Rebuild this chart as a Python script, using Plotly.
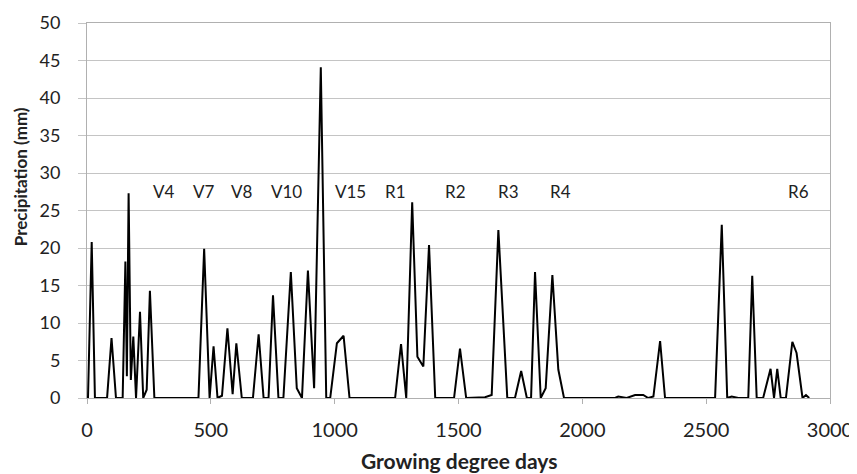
import plotly.graph_objects as go

# Growing degree days (x) and precipitation in mm (y)
gdd = [4, 19, 32, 81, 99, 117, 144, 155, 161, 168, 177, 187, 198, 214, 227, 241, 254, 272,
       450, 473, 495, 511, 527, 545, 567, 588, 603, 625, 670, 693, 713, 733, 751, 773,
       793, 823, 847, 868, 892, 917, 944, 966, 982, 1009, 1036, 1060,
       1244, 1268, 1289, 1313, 1334, 1358, 1381, 1406, 1482, 1506, 1531,
       1607, 1634, 1661, 1697, 1728, 1753, 1776, 1793, 1809, 1832, 1852, 1879, 1903, 1926,
       2132, 2145, 2179, 2213, 2246, 2266, 2287, 2314, 2334,
       2536, 2563, 2585, 2603, 2630, 2670, 2686, 2704, 2730, 2760, 2774, 2787, 2801,
       2822, 2848, 2865, 2889, 2903, 2916]
precip = [0, 20.8, 0, 0, 8.0, 0, 0, 18.2, 2.9, 27.3, 2.4, 8.2, 0, 11.5, 0, 1.1, 14.3, 0,
          0, 19.9, 0, 6.9, 0, 0.3, 9.3, 0.5, 7.3, 0, 0, 8.5, 0, 0, 13.7, 0,
          0, 16.8, 1.3, 0, 17.0, 1.3, 44.1, 0, 0, 7.3, 8.3, 0,
          0, 7.2, 0, 26.1, 5.5, 4.2, 20.4, 0, 0, 6.6, 0,
          0.1, 0.4, 22.4, 0, 0, 3.6, 0, 0, 16.8, 0, 1.3, 16.4, 3.8, 0,
          0, 0.2, 0, 0.4, 0.4, 0, 0.2, 7.6, 0,
          0, 23.1, 0, 0.2, 0, 0, 16.3, 0, 0, 3.9, 0, 3.9, 0,
          0, 7.5, 6.0, 0, 0.4, 0]

# Growth stage labels
stage_labels = ["V4", "V7", "V8", "V10", "V15", "R1", "R2", "R3", "R4", "R6"]
stage_gdd = [309, 471, 625, 804, 1063, 1247, 1486, 1702, 1913, 2872]
stage_y = 27.5

x_ticks = [0, 500, 1000, 1500, 2000, 2500, 3000]
y_ticks = [0, 5, 10, 15, 20, 25, 30, 35, 40, 45, 50]

x_title = "Growing degree days"
y_title = "Precipitation (mm)"

FONT = "Lato"
TXT = "#222222"

fig = go.Figure()
fig.add_trace(go.Scatter(x=gdd, y=precip, mode="lines",
                         line=dict(color="black", width=2), showlegend=False,
                         hoverinfo="x+y"))

for lab, xv in zip(stage_labels, stage_gdd):
    fig.add_annotation(x=xv, y=stage_y, text=lab, showarrow=False,
                       font=dict(family=FONT, size=17, color=TXT),
                       xanchor="center", yanchor="middle")

# Axis titles placed as paper-anchored annotations
fig.add_annotation(xref="paper", yref="paper", x=0.5007, y=-0.167,
                   text="<b>" + x_title + "</b>", showarrow=False,
                   font=dict(family=FONT, size=21, color=TXT),
                   xanchor="center", yanchor="middle")
fig.add_annotation(xref="paper", yref="paper", x=-0.090, y=0.589,
                   text="<b>" + y_title + "</b>", showarrow=False, textangle=-90,
                   font=dict(family=FONT, size=17, color=TXT),
                   xanchor="center", yanchor="middle")

# The page body adds an 8px margin, so the figure is sized to fit inside it.
fig.update_layout(
    width=849, height=466,
    margin=dict(l=79, r=27, t=15, b=76),
    paper_bgcolor="white", plot_bgcolor="white",
    font=dict(family=FONT, color=TXT),
    xaxis=dict(range=[0, 3000], tickvals=x_ticks, showgrid=False, automargin=False,
               zeroline=False, showline=True, linecolor="#b0b0b0", linewidth=1,
               mirror=True, ticks="outside", ticklen=5, tickcolor="#b0b0b0",
               tickfont=dict(family=FONT, size=20, color=TXT),
               ticklabelstandoff=9),
    yaxis=dict(range=[0, 50], tickvals=y_ticks, showgrid=True, gridcolor="#c4c4c4",
               gridwidth=1, zeroline=False, showline=True, linecolor="#b0b0b0",
               automargin=False,
               linewidth=1, mirror=True, ticks="outside", ticklen=8, tickcolor="#c4c4c4",
               tickfont=dict(family=FONT, size=18, color=TXT),
               ticklabelstandoff=14),
)

fig.write_html("out.html")
